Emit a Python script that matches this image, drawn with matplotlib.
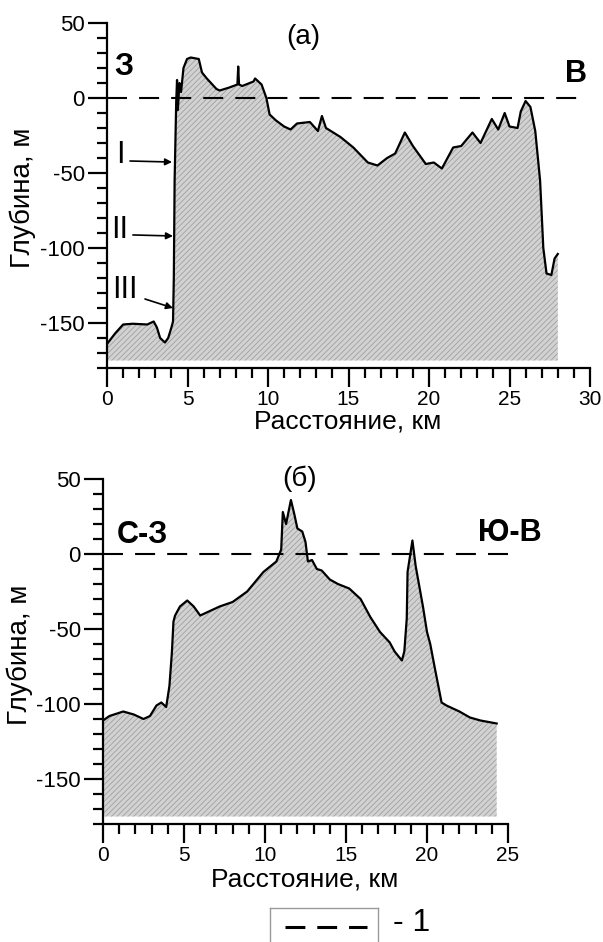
"""Bathymetric profiles (a) and (b) with sea level line."""

import matplotlib

matplotlib.use("Agg")
import matplotlib.pyplot as plt
from matplotlib.ticker import MultipleLocator

plt.rcParams["font.family"] = ["Liberation Sans", "DejaVu Sans"]
plt.rcParams["hatch.linewidth"] = 0.6
plt.rcParams["axes.unicode_minus"] = False

# profile (a): distance, km / depth, m
dist_a = [0, 0.5, 1.0, 1.6, 2.5, 2.9, 3.1, 3.3, 3.6, 3.8, 4.0, 4.1, 4.15, 4.2,
          4.3, 4.35, 4.4, 4.5, 4.6, 4.75, 4.97, 5.2, 5.7, 5.9, 6.2, 6.8, 7.0,
          7.6, 8.1, 8.15, 8.2, 8.4, 9.1, 9.2, 9.6, 9.9, 10.1, 10.5, 11.0, 11.4,
          11.8, 12.6, 13.1, 13.35, 13.6, 14.5, 15.3, 16.2, 16.8, 17.4, 17.9,
          18.5, 19.0, 19.8, 20.3, 20.8, 21.5, 22.0, 22.7, 23.2, 23.9, 24.3,
          24.7, 25.0, 25.5, 25.7, 26.0, 26.3, 26.6, 26.9, 27.1, 27.3, 27.6,
          27.8, 28.0]
depth_a = [-164, -157, -151, -150.5, -151, -149, -153, -160, -163, -160, -153,
           -149, -120, -55, -2, 12, -8, 10, 4, 20, 26, 27, 26, 17, 13, 6, 5, 7,
           9, 21, 9, 8, 11, 13, 9, 0, -11, -15, -19, -21, -17, -16, -22, -12,
           -20, -26, -33, -43, -45, -40, -37, -23, -32, -44, -43, -47, -33,
           -32, -23, -30, -14, -21, -10, -19, -20, -9, -2, -6, -22, -55, -100,
           -117, -118, -107, -104]

# profile (b)
dist_b = [0, 0.4, 1.25, 1.9, 2.5, 2.9, 3.3, 3.6, 3.9, 4.1, 4.25, 4.35, 4.45,
          4.75, 5.2, 5.6, 6.0, 6.4, 7.2, 8.0, 8.9, 9.9, 10.7, 11.0, 11.1, 11.3,
          11.6, 11.8, 12.0, 12.3, 12.5, 12.65, 12.9, 13.2, 13.5, 14.0, 14.5,
          15.2, 15.9, 16.5, 17.1, 17.7, 18.0, 18.45, 18.6, 18.75, 18.8, 19.1,
          19.3, 19.75, 20.0, 20.2, 20.5, 20.9, 21.2, 22.0, 22.65, 23.3, 24.3]
depth_b = [-111, -108, -105, -107, -110, -108, -101, -99, -102, -88, -66, -45,
           -41, -35, -31, -35, -41, -39, -35, -32, -25, -12, -5, 3, 28, 20, 36,
           27, 17, 15, 8, -5, -4, -10, -11, -17, -20, -23, -30, -42, -52, -59,
           -65, -71, -65, -43, -12, 9, -8, -35, -52, -60, -77, -99, -101, -105,
           -109, -111, -113]

sea_a = [0, 29.5]
sea_b = [0, 25.6]
fill_floor = -175

fig = plt.figure(figsize=(6.03, 9.42), dpi=100)
ax_a = fig.add_axes([107 / 603, 1 - 368 / 942, 483 / 603, 345 / 942])
ax_b = fig.add_axes([103 / 603, 1 - 824 / 942, 405 / 603, 345 / 942])


def style_axes(ax, xmax):
    ax.set_xlim(0, xmax)
    ax.set_ylim(-180, 50)
    for side in ("top", "right"):
        ax.spines[side].set_visible(False)
    for side in ("left", "bottom"):
        ax.spines[side].set_linewidth(1.6)
    ax.set_xticks(range(0, xmax + 1, 5))
    ax.set_yticks([-150, -100, -50, 0, 50])
    ax.xaxis.set_minor_locator(MultipleLocator(1))
    ax.yaxis.set_minor_locator(MultipleLocator(10))
    ax.tick_params(which="major", length=14, width=1.6, direction="out")
    ax.tick_params(which="minor", length=7, width=1.6, direction="out")
    ax.tick_params(axis="y", labelsize=16, pad=2)
    ax.tick_params(axis="x", labelsize=15, pad=2)


def draw_profile(ax, dist, depth, sea):
    ax.fill_between(dist, depth, fill_floor, facecolor="#d2d2d2", edgecolor="#a0a0a0",
                    hatch="//////", linewidth=0)
    ax.plot(dist, depth, color="black", linewidth=1.6)
    ax.plot(sea, [0, 0], color="black", linewidth=1.5, dashes=(9.6, 5.8), clip_on=False)


style_axes(ax_a, 30)
draw_profile(ax_a, dist_a, depth_a, sea_a)
ax_a.text(12.2, 41, "(а)", fontsize=20, ha="center", va="center")
ax_a.text(1.05, 20.7, "З", fontsize=22, fontweight="bold", ha="center", va="center")
ax_a.text(29.1, 16, "В", fontsize=22, fontweight="bold", ha="center", va="center", clip_on=False)

for label, txt_xy, tail, tip in [
    ("I", (0.84, -37.7), (1.43, -42), (4.04, -42.7)),
    ("II", (0.81, -87.7), (1.61, -91.3), (4.1, -92)),
    ("III", (1.12, -127.7), (2.36, -134), (4.1, -140)),
]:
    ax_a.text(*txt_xy, label, fontsize=22, ha="center", va="center")
    ax_a.annotate("", xy=tip, xytext=tail,
                  arrowprops=dict(arrowstyle="-|>", color="black", lw=1.2,
                                  mutation_scale=10, shrinkA=0, shrinkB=0))

style_axes(ax_b, 25)
draw_profile(ax_b, dist_b, depth_b, sea_b)
ax_b.text(12.16, 50, "(б)", fontsize=20, ha="center", va="center", clip_on=False)
ax_b.text(2.4, 12.7, "С-З", fontsize=22, fontweight="bold", ha="center", va="center")
ax_b.text(25.1, 14, "Ю-В", fontsize=22, fontweight="bold", ha="center", va="center", clip_on=False)

# axis titles
fig.text(23 / 603, 1 - 198 / 942, "Глубина, м", rotation=90, fontsize=20, ha="center", va="center")
fig.text(20 / 603, 1 - 655 / 942, "Глубина, м", rotation=90, fontsize=20, ha="center", va="center")
fig.text(348 / 603, 1 - 422 / 942, "Расстояние, км", fontsize=19, ha="center", va="center")
fig.text(305 / 603, 1 - 880 / 942, "Расстояние, км", fontsize=19, ha="center", va="center")

# legend box, cut off by the figure bottom
ax_leg = fig.add_axes([270 / 603, -20 / 942, 108 / 603, 54 / 942])
ax_leg.set_xticks([])
ax_leg.set_yticks([])
for sp in ax_leg.spines.values():
    sp.set_color("#9a9a9a")
    sp.set_linewidth(1.0)
ax_leg.set_xlim(0, 1)
ax_leg.set_ylim(0, 1)
ax_leg.plot([0.14, 0.9], [0.65, 0.65], color="black", linewidth=2.2, dashes=(6.5, 3.9))
fig.text(412 / 603, 1 - 923 / 942, "- 1", fontsize=23, ha="center", va="center")

fig.savefig("out.png", dpi=100)
